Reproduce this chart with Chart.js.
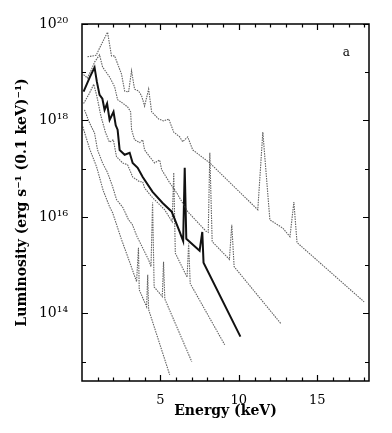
<!DOCTYPE html>
<html>
<head>
<meta charset="utf-8">
<script src="https://cdn.jsdelivr.net/npm/chart.js@4"></script>
<style>
  html, body { margin: 0; padding: 0; background: #fff; }
  #wrap { width: 392px; height: 433px; }
</style>
</head>
<body>
<div id="wrap"><canvas id="specChart" width="392" height="433"></canvas></div>
<script>
// energies in keV, luminosities as log10 values
const energyA = [0.35, 0.9, 1.12, 1.44, 1.63, 1.88, 2.08, 2.52, 2.72, 2.97, 3.16, 3.35, 3.61, 3.8, 3.99, 4.25, 4.44, 4.89, 5.21, 5.53, 5.85, 6.23, 6.42, 6.74, 7.06, 8.15, 11.21, 11.53, 11.98, 12.8, 13.26, 13.51, 13.71, 17.99];
const logLumA = [19.32, 19.35, 19.5, 19.71, 19.83, 19.34, 19.34, 18.96, 18.61, 18.59, 19.03, 18.65, 18.61, 18.51, 18.3, 18.65, 18.18, 18.03, 17.99, 18.03, 17.76, 17.66, 17.56, 17.66, 17.39, 17.12, 16.15, 17.76, 15.94, 15.77, 15.59, 16.31, 15.47, 14.24];

const energyB = [0.1, 0.35, 0.6, 0.8, 1.12, 1.31, 1.76, 2.08, 2.27, 2.59, 2.91, 3.1, 3.16, 3.35, 3.67, 3.87, 3.99, 4.31, 4.63, 4.95, 5.08, 5.59, 6.04, 6.74, 7.89, 8.05, 8.15, 8.3, 9.4, 9.55, 9.7, 12.68];
const logLumB = [18.95, 18.88, 19.05, 19.21, 19.36, 19.11, 18.9, 18.7, 18.43, 18.36, 18.28, 18.18, 17.81, 17.6, 17.54, 17.6, 17.39, 17.25, 17.12, 17.18, 16.98, 16.71, 16.5, 16.11, 15.71, 15.68, 17.33, 15.49, 15.12, 15.84, 14.97, 13.79];

const energyC = [0.1, 0.5, 0.8, 0.95, 1.12, 1.3, 1.44, 1.6, 1.76, 2.01, 2.15, 2.27, 2.4, 2.72, 3.04, 3.23, 3.55, 3.87, 4.5, 5.14, 5.72, 6.23, 6.45, 6.55, 6.65, 7.5, 7.67, 7.75, 10.1];
const logLumC = [18.6, 18.9, 19.1, 18.8, 18.53, 18.45, 18.22, 18.35, 18.01, 18.18, 17.9, 17.81, 17.39, 17.29, 17.33, 17.12, 17.02, 16.83, 16.52, 16.29, 16.11, 15.69, 15.5, 17.02, 15.55, 15.3, 15.69, 15.05, 13.52];

const energyD = [0.1, 0.45, 0.75, 0.95, 1.2, 1.5, 1.75, 2.0, 2.2, 2.59, 2.91, 3.23, 3.67, 3.87, 3.99, 4.5, 5.27, 5.75, 5.85, 5.95, 6.7, 6.8, 6.9, 9.1];
const logLumD = [18.35, 18.55, 18.75, 18.5, 18.1, 17.75, 17.55, 17.6, 17.25, 17.12, 17.08, 16.83, 16.73, 16.73, 16.6, 16.4, 16.15, 15.9, 16.92, 15.25, 14.75, 15.45, 14.62, 13.35];

const energyE = [0.16, 0.48, 0.8, 0.99, 1.31, 1.63, 1.95, 2.2, 2.6, 2.97, 3.2, 3.5, 4.25, 4.4, 4.5, 4.6, 5.12, 5.2, 5.28, 7.0];
const logLumE = [18.22, 17.95, 17.74, 17.39, 17.12, 16.92, 16.63, 16.36, 16.2, 15.94, 15.85, 15.6, 15.11, 14.97, 16.3, 14.55, 14.35, 15.07, 14.3, 13.0];

const energyF = [0.05, 0.5, 0.93, 1.35, 1.76, 1.95, 2.5, 3.0, 3.48, 3.6, 3.65, 4.12, 4.19, 4.25, 5.59];
const logLumF = [17.87, 17.4, 17.04, 16.55, 16.21, 16.09, 15.55, 15.1, 14.66, 15.36, 14.49, 14.14, 14.8, 14.08, 12.73];

const xTickValues = [1, 2, 3, 4, 5, 6, 7, 8, 9, 10, 11, 12, 13, 14, 15, 16, 17, 18];
const xTickLabels = { 5: '5', 10: '10', 15: '15' };
const yDecades = [13, 14, 15, 16, 17, 18, 19, 20];
const yTickLabels = { 14: '10\u00b9\u2074', 16: '10\u00b9\u2076', 18: '10\u00b9\u2078', 20: '10\u00b2\u2070' };

function toPoints(es, ls) {
  return es.map((e, i) => ({ x: e, y: Math.pow(10, ls[i]) }));
}

const dotted = { borderColor: 'rgba(70,70,70,0.85)', borderWidth: 1.1, borderDash: [1.5, 1] };
const bold = { borderColor: '#111', borderWidth: 2, borderDash: [] };

const datasets = [
  Object.assign({ data: toPoints(energyA, logLumA) }, dotted),
  Object.assign({ data: toPoints(energyB, logLumB) }, dotted),
  Object.assign({ data: toPoints(energyC, logLumC) }, bold),
  Object.assign({ data: toPoints(energyD, logLumD) }, dotted),
  Object.assign({ data: toPoints(energyE, logLumE) }, dotted),
  Object.assign({ data: toPoints(energyF, logLumF) }, dotted)
];

// frame, inward ticks on all four sides, and the panel letter
const framePlugin = {
  id: 'frame',
  afterDraw(chart) {
    const { ctx, chartArea: a, scales } = chart;
    ctx.save();
    ctx.strokeStyle = '#000';
    ctx.lineWidth = 1.5;
    ctx.strokeRect(a.left, a.top, a.right - a.left, a.bottom - a.top);
    ctx.lineWidth = 1.2;
    ctx.beginPath();
    xTickValues.forEach(v => {
      const px = Math.round(scales.x.getPixelForValue(v)) + 0.5;
      const len = v % 5 === 0 ? 6 : 3.5;
      ctx.moveTo(px, a.bottom); ctx.lineTo(px, a.bottom - len);
      ctx.moveTo(px, a.top); ctx.lineTo(px, a.top + len);
    });
    yDecades.forEach(d => {
      const py = Math.round(scales.y.getPixelForValue(Math.pow(10, d))) + 0.5;
      const len = d % 2 === 0 ? 6 : 4;
      ctx.moveTo(a.left, py); ctx.lineTo(a.left + len, py);
      ctx.moveTo(a.right, py); ctx.lineTo(a.right - len, py);
    });
    ctx.stroke();
    ctx.fillStyle = '#000';
    ctx.font = '12px "DejaVu Serif"';
    ctx.textAlign = 'center';
    ctx.textBaseline = 'middle';
    ctx.fillText('a', scales.x.getPixelForValue(16.85), scales.y.getPixelForValue(Math.pow(10, 19.4)));
    ctx.restore();
  }
};

const ctx = document.getElementById('specChart').getContext('2d');
const specChart = new Chart(ctx, {
  type: 'line',
  data: { datasets: datasets },
  options: {
    responsive: false,
    animation: false,
    layout: { padding: { left: 0, top: 24, right: 23, bottom: 0 } },
    elements: { point: { radius: 0 }, line: { tension: 0 } },
    plugins: { legend: { display: false }, tooltip: { enabled: false } },
    scales: {
      x: {
        type: 'linear',
        min: 0,
        max: 18.3,
        grid: { display: false },
        border: { display: false },
        afterBuildTicks: s => { s.ticks = xTickValues.map(v => ({ value: v })); },
        afterFit: s => { s.height = 52; },
        ticks: {
          autoSkip: false,
          maxRotation: 0,
          padding: 4,
          color: '#000',
          font: { family: 'DejaVu Serif', size: 13 },
          callback: v => xTickLabels[v] || ''
        },
        title: {
          display: true,
          text: 'Energy (keV)',
          color: '#000',
          font: { family: 'DejaVu Serif', size: 14, weight: 'bold' },
          padding: { top: 0, bottom: 13 }
        }
      },
      y: {
        type: 'logarithmic',
        min: Math.pow(10, 12.6),
        max: 1e20,
        grid: { display: false },
        border: { display: false },
        afterBuildTicks: s => { s.ticks = yDecades.map(d => ({ value: Math.pow(10, d) })); },
        afterFit: s => { s.width = 82; },
        ticks: {
          autoSkip: false,
          padding: 6,
          color: '#000',
          font: { family: 'DejaVu Serif', size: 14 },
          callback: v => yTickLabels[Math.round(Math.log10(v))] || ''
        },
        title: {
          display: true,
          text: 'Luminosity (erg s\u207b\u00b9 (0.1 keV)\u207b\u00b9)',
          color: '#000',
          font: { family: 'DejaVu Serif', size: 14, weight: 'bold' },
          padding: { top: 14, bottom: 0 }
        }
      }
    }
  },
  plugins: [framePlugin]
});
</script>
</body>
</html>
